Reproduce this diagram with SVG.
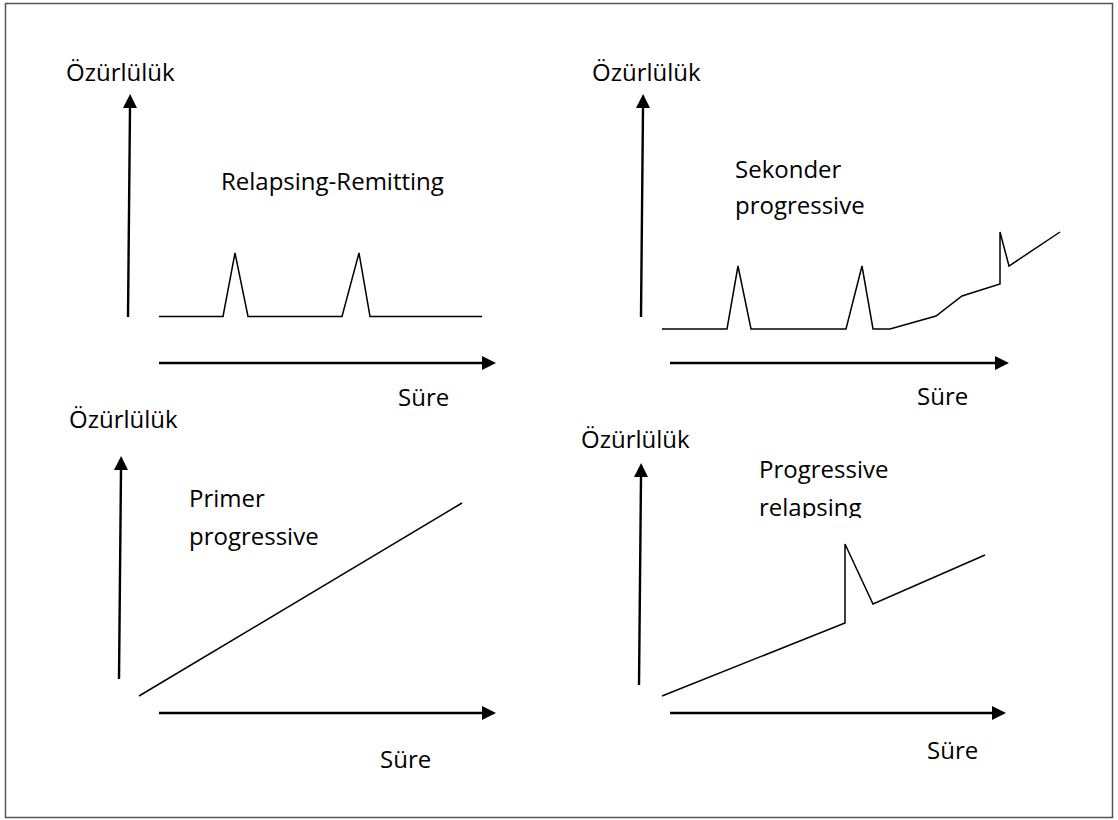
<svg xmlns="http://www.w3.org/2000/svg" width="1118" height="820" viewBox="0 0 1118 820">
  <style>
    .frame { fill: #ffffff; stroke: #555555; stroke-width: 1.5; }
    .axis { fill: none; stroke: #000000; stroke-width: 2.4; marker-end: url(#arrow); }
    .curve { fill: none; stroke: #000000; stroke-width: 1.5; stroke-linejoin: miter; }
    .label { font-family: "Open Sans", "Liberation Sans", sans-serif; font-size: 24px; fill: #000000; }
  </style>
  <defs>
    <marker id="arrow" markerUnits="userSpaceOnUse" markerWidth="14" markerHeight="14" refX="0" refY="7" orient="auto" viewBox="0 0 14 14">
      <path d="M0,0 L14,7 L0,14 z" fill="#000000"/>
    </marker>
    <clipPath id="clipPR">
      <rect x="740" y="440" width="260" height="78"/>
    </clipPath>
  </defs>

  <rect class="frame" x="5.5" y="3.5" width="1107" height="814"/>

  <g id="panel-relapsing-remitting">
    <text class="label" x="66" y="81">Özürlülük</text>
    <text class="label" x="221" y="190">Relapsing-Remitting</text>
    <text class="label" x="398" y="406">Süre</text>
    <polyline class="curve" points="159,316.5 223,316.5 235,253 248,316.5 342,316.5 359,253 370,316.5 482,316.5"/>
  </g>

  <g id="panel-sekonder-progressive">
    <text class="label" x="592" y="81">Özürlülük</text>
    <text class="label" x="735" y="178">Sekonder</text>
    <text class="label" x="735" y="214">progressive</text>
    <text class="label" x="917" y="405">Süre</text>
    <polyline class="curve" points="662,329 727,329 738,266 751,329 846,329 862,266 873,329 890,329 936,316 962,296 1000,284 1000,232 1009,266 1060,232"/>
  </g>

  <g id="panel-primer-progressive">
    <text class="label" x="69" y="428">Özürlülük</text>
    <text class="label" x="189" y="507">Primer</text>
    <text class="label" x="189" y="545">progressive</text>
    <text class="label" x="380" y="768">Süre</text>
    <line class="curve" x1="139" y1="696" x2="462" y2="503"/>
  </g>

  <g id="panel-progressive-relapsing">
    <text class="label" x="581" y="448">Özürlülük</text>
    <g clip-path="url(#clipPR)">
      <text class="label" x="759" y="478">Progressive</text>
      <text class="label" x="759" y="516">relapsing</text>
    </g>
    <text class="label" x="927" y="759">Süre</text>
    <polyline class="curve" points="662,696 845,623 845,544 873,604 985,555"/>
  </g>

  <g id="connectors">
    <line class="axis" x1="128" y1="317" x2="130" y2="108"/>
    <line class="axis" x1="159" y1="363" x2="482" y2="363"/>
    <line class="axis" x1="641" y1="317" x2="643" y2="108"/>
    <line class="axis" x1="670" y1="363" x2="995" y2="363"/>
    <line class="axis" x1="119" y1="679" x2="121" y2="470"/>
    <line class="axis" x1="159" y1="713" x2="482" y2="713"/>
    <line class="axis" x1="639" y1="685" x2="641" y2="477"/>
    <line class="axis" x1="670" y1="713" x2="992" y2="713"/>
  </g>
</svg>
